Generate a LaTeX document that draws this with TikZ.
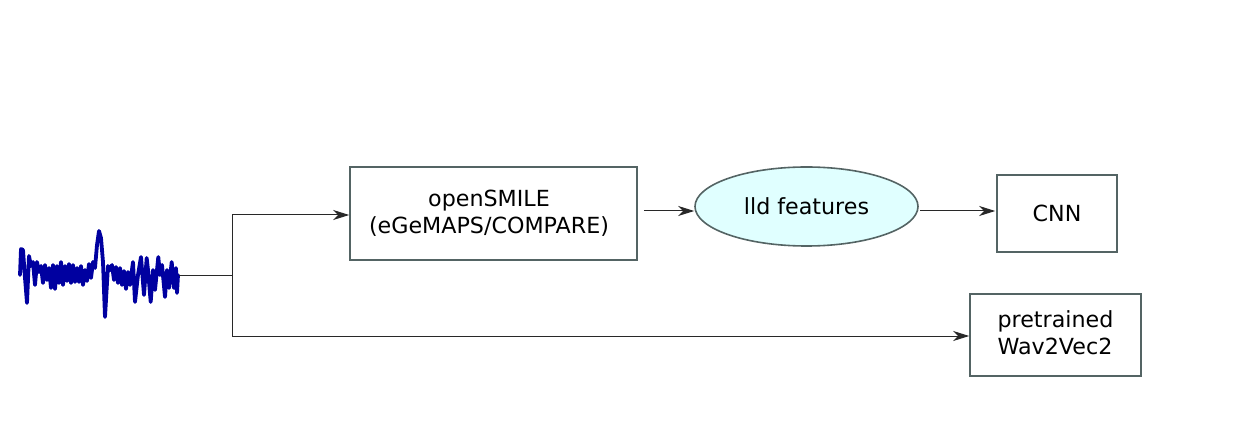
\documentclass[tikz,border=0pt]{standalone}
\usepackage{fontspec}
\setmainfont{DejaVu Sans}
\usetikzlibrary{shapes.geometric,arrows.meta}
\definecolor{boxc}{RGB}{84,100,100}
\definecolor{ellfill}{RGB}{224,255,255}
\definecolor{wavec}{RGB}{0,0,160}
\definecolor{linec}{RGB}{40,40,40}
\tikzset{
  txt/.style={font=\fontsize{22.2}{27}\selectfont},
  boxn/.style={draw=boxc, line width=1.6pt, rectangle, inner sep=0pt, txt, align=center},
  elln/.style={draw=boxc, line width=1.6pt, ellipse, fill=ellfill, inner sep=0pt, txt},
  arr/.style={draw=linec, line width=1pt, -{Stealth[length=16pt,width=10pt,inset=5pt]}},
  conn/.style={draw=linec, line width=1pt},
}
\begin{document}
\begin{tikzpicture}[x=1pt,y=-1pt]
\useasboundingbox (0,0) rectangle (1249,435);
% waveform
\draw[wavec, line width=3.8pt, line join=round, line cap=round]
(20,275) -- (21,249) -- (23,250) -- (25,278) -- (27,303) -- (29,256) -- (31,266) -- (33,262) -- (35,285) -- (37,262) -- (39,272) -- (41,266) -- (43,283) -- (45,265) -- (47,280) -- (49,268) -- (51,288) -- (53,265) -- (55,289) -- (57,266) -- (59,283) -- (61,262) -- (63,285) -- (65,266) -- (67,281) -- (69,264) -- (71,283) -- (73,265) -- (75,282) -- (77,268) -- (79,282) -- (81,266) -- (83,285) -- (85,270) -- (87,281) -- (89,264) -- (91,278) -- (93,262) -- (95,268) -- (97,245) -- (99,231) -- (101,238) -- (103,262) -- (104,290) -- (105,317) -- (106,300) -- (108,266) -- (110,270) -- (112,265) -- (114,280) -- (116,267) -- (118,283) -- (120,268) -- (122,285) -- (124,271) -- (126,289) -- (128,272) -- (130,285) -- (133,262) -- (135,302) -- (138,275) -- (141,257) -- (144,295) -- (146.7,258) -- (148,270) -- (150.7,302) -- (153,270) -- (155,290) -- (158.3,257) -- (160,275) -- (162,265) -- (165,297) -- (167,270) -- (169,288) -- (171.7,262) -- (174,288) -- (176,268) -- (177,293) -- (178,275);
\coordinate (w) at (179,276);
\coordinate (j) at (232.5,276);
% nodes
\node[boxn, minimum width=287pt, minimum height=93pt] (open) at (493.5,213.5) {};
\node[txt, align=center] (opentxt) at (489,213.5) {openSMILE\\(eGeMAPS/COMPARE)};
\node[elln, minimum width=223pt, minimum height=79pt] (ell) at (806.5,206.5) {lld features};
\node[boxn, minimum width=120pt, minimum height=77pt] (cnn) at (1057,213.5) {CNN};
\node[boxn, minimum width=171pt, minimum height=82pt] (pre) at (1055.5,335) {};
\node[txt, align=left, anchor=west] (pretxt) at (994,333) {pretrained\\Wav2Vec2};
% connectors
\draw[conn] (w) -- (j);
\draw[arr] (j) |- ([yshift=-1.5pt]open.west);
\draw[arr] (j) |- ([yshift=-1pt]pre.west);
\draw[arr] ([xshift=6pt,yshift=2.5pt]open.east) -- ([yshift=-4.5pt]ell.west);
\draw[arr] ([xshift=1pt,yshift=-4.5pt]ell.east) -- ([xshift=-1pt,yshift=2.5pt]cnn.west);
\end{tikzpicture}
\end{document}
